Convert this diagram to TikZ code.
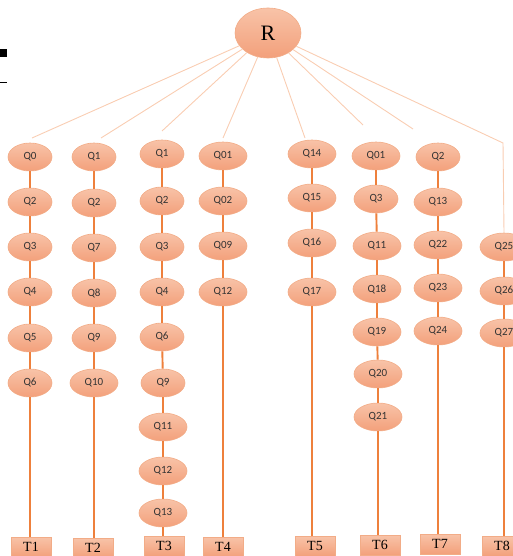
\documentclass[tikz,border=0pt]{standalone}
\usepackage{fontspec}
\setmainfont{Liberation Serif}
\newfontfamily\qfont{Carlito}
\usetikzlibrary{shapes.geometric}
\definecolor{qtop}{RGB}{248,195,168}
\definecolor{qbot}{RGB}{243,160,123}
\definecolor{qedge}{RGB}{242,172,135}
\definecolor{vline}{RGB}{238,128,60}
\definecolor{rline}{RGB}{249,205,178}
\tikzset{
  qnode/.style={ellipse, draw=qedge, line width=0.6pt, top color=qtop, bottom color=qbot,
    minimum width=44pt, minimum height=28pt, inner sep=0pt, font=\qfont\fontsize{11}{11}\selectfont, text=black!80},
  wq/.style={minimum width=48pt},
  rnode/.style={ellipse, draw=qedge, line width=0.6pt, top color=qtop, bottom color=qbot,
    minimum width=66pt, minimum height=50pt, inner sep=0pt, font=\fontsize{22}{22}\selectfont},
  tbox/.style={rectangle, draw=qedge, line width=0.6pt, top color=qtop, bottom color=qbot,
    minimum width=40pt, minimum height=20pt, inner sep=0pt, font=\fontsize{14}{14}\selectfont},
  vcon/.style={draw=vline, line width=1.9pt},
  rcon/.style={draw=rline, line width=0.9pt}
}
\begin{document}
\begin{tikzpicture}[x=1pt,y=-1pt]
\useasboundingbox (0,0) rectangle (513,556);
\clip (0,0) rectangle (513,556);
% left-edge marks
\fill[black] (0,49) rectangle (7,57);
\draw[black, line width=0.7pt] (0,82) -- (7,82);
% root
\node[rnode] (R) at (268,33) {R};
% free ends of root connectors
\coordinate (e1) at (32,138);
\coordinate (e2) at (101,138);
\coordinate (e3) at (162,131);
\coordinate (e4) at (223,138);
\coordinate (e5) at (305,138);
\coordinate (e6) at (363,125);
\coordinate (e7) at (413,129);
\coordinate (e8) at (503,143);
% column 1
\node[qnode] (a1) at (30,157) {Q0};
\node[qnode] (a2) at (30,202) {Q2};
\node[qnode] (a3) at (30,247) {Q3};
\node[qnode] (a4) at (30,292) {Q4};
\node[qnode] (a5) at (30,338) {Q5};
\node[qnode] (a6) at (30,383) {Q6};
\node[tbox] (T1) at (31,547) {T1};
% column 2
\node[qnode] (b1) at (94,157) {Q1};
\node[qnode] (b2) at (94,203) {Q2};
\node[qnode] (b3) at (94,248) {Q7};
\node[qnode] (b4) at (94,293) {Q8};
\node[qnode] (b5) at (94,338) {Q9};
\node[qnode,wq] (b6) at (94,383) {Q10};
\node[tbox] (T2) at (93,548) {T2};
% column 3
\node[qnode] (c1) at (162,154) {Q1};
\node[qnode] (c2) at (162,201) {Q2};
\node[qnode] (c3) at (162,247) {Q3};
\node[qnode] (c4) at (162,292) {Q4};
\node[qnode] (c5) at (162,337) {Q6};
\node[qnode] (c6) at (163,383) {Q9};
\node[qnode,wq] (c7) at (163,427) {Q11};
\node[qnode,wq] (c8) at (163,471) {Q12};
\node[qnode,wq] (c9) at (163,513) {Q13};
\node[tbox] (T3) at (164,546) {T3};
% column 4
\node[qnode,wq] (d1) at (223,156) {Q01};
\node[qnode,wq] (d2) at (223,201) {Q02};
\node[qnode,wq] (d3) at (223,246) {Q09};
\node[qnode,wq] (d4) at (223,292) {Q12};
\node[tbox] (T4) at (223,547) {T4};
% column 5
\node[qnode,wq] (f1) at (312,154) {Q14};
\node[qnode,wq] (f2) at (312,198) {Q15};
\node[qnode,wq] (f3) at (312,243) {Q16};
\node[qnode,wq] (f4) at (312,292) {Q17};
\node[tbox] (T5) at (315,546) {T5};
% column 6
\node[qnode,wq] (g1) at (376,156) {Q01};
\node[qnode] (g2) at (376,199) {Q3};
\node[qnode,wq] (g3) at (377,246) {Q11};
\node[qnode,wq] (g4) at (377,289) {Q18};
\node[qnode,wq] (g5) at (377,332) {Q19};
\node[qnode,wq] (g6) at (378,374) {Q20};
\node[qnode,wq] (g7) at (378,417) {Q21};
\node[tbox] (T6) at (380,545) {T6};
% column 7
\node[qnode] (h1) at (438,157) {Q2};
\node[qnode,wq] (h2) at (438,202) {Q13};
\node[qnode,wq] (h3) at (438,245) {Q22};
\node[qnode,wq] (h4) at (438,288) {Q23};
\node[qnode,wq] (h5) at (438,331) {Q24};
\node[tbox] (T7) at (440,544) {T7};
% column 8
\node[qnode,wq] (k1) at (504,247) {Q25};
\node[qnode,wq] (k2) at (504,291) {Q26};
\node[qnode,wq] (k3) at (504,333) {Q27};
\node[tbox] (T8) at (502,546) {T8};
% root connectors
\draw[rcon] (R) -- (e1);
\draw[rcon] (R) -- (e2);
\draw[rcon] (R) -- (e3);
\draw[rcon] (R) -- (e4);
\draw[rcon] (R) -- (e5);
\draw[rcon] (R) -- (e6);
\draw[rcon] (R) -- (e7);
\draw[rcon] (R) -- (e8) -- (k1.north);
% vertical connectors
\draw[vcon] (a1) -- (a2); \draw[vcon] (a2) -- (a3); \draw[vcon] (a3) -- (a4);
\draw[vcon] (a4) -- (a5); \draw[vcon] (a5) -- (a6);
\draw[vcon] (a6.south) -- (a6.south |- T1.north);
\draw[vcon] (b1) -- (b2); \draw[vcon] (b2) -- (b3); \draw[vcon] (b3) -- (b4);
\draw[vcon] (b4) -- (b5); \draw[vcon] (b5) -- (b6);
\draw[vcon] (b6.south) -- (b6.south |- T2.north);
\draw[vcon] (c1) -- (c2); \draw[vcon] (c2) -- (c3); \draw[vcon] (c3) -- (c4);
\draw[vcon] (c4) -- (c5); \draw[vcon] (c5) -- (c6); \draw[vcon] (c6) -- (c7);
\draw[vcon] (c7) -- (c8); \draw[vcon] (c8) -- (c9);
\draw[vcon] (c9.south) -- (c9.south |- T3.north);
\draw[vcon] (d1) -- (d2); \draw[vcon] (d2) -- (d3); \draw[vcon] (d3) -- (d4);
\draw[vcon] (d4.south) -- (d4.south |- T4.north);
\draw[vcon] (f1) -- (f2); \draw[vcon] (f2) -- (f3); \draw[vcon] (f3) -- (f4);
\draw[vcon] (f4.south) -- (f4.south |- T5.north);
\draw[vcon] (g1) -- (g2); \draw[vcon] (g2) -- (g3); \draw[vcon] (g3) -- (g4);
\draw[vcon] (g4) -- (g5); \draw[vcon] (g5) -- (g6); \draw[vcon] (g6) -- (g7);
\draw[vcon] (g7.south) -- (g7.south |- T6.north);
\draw[vcon] (h1) -- (h2); \draw[vcon] (h2) -- (h3); \draw[vcon] (h3) -- (h4);
\draw[vcon] (h4) -- (h5);
\draw[vcon] (h5.south) -- (h5.south |- T7.north);
\draw[vcon] (k1) -- (k2); \draw[vcon] (k2) -- (k3);
\draw[vcon] (k3.south) -- (k3.south |- T8.north);
\end{tikzpicture}
\end{document}
